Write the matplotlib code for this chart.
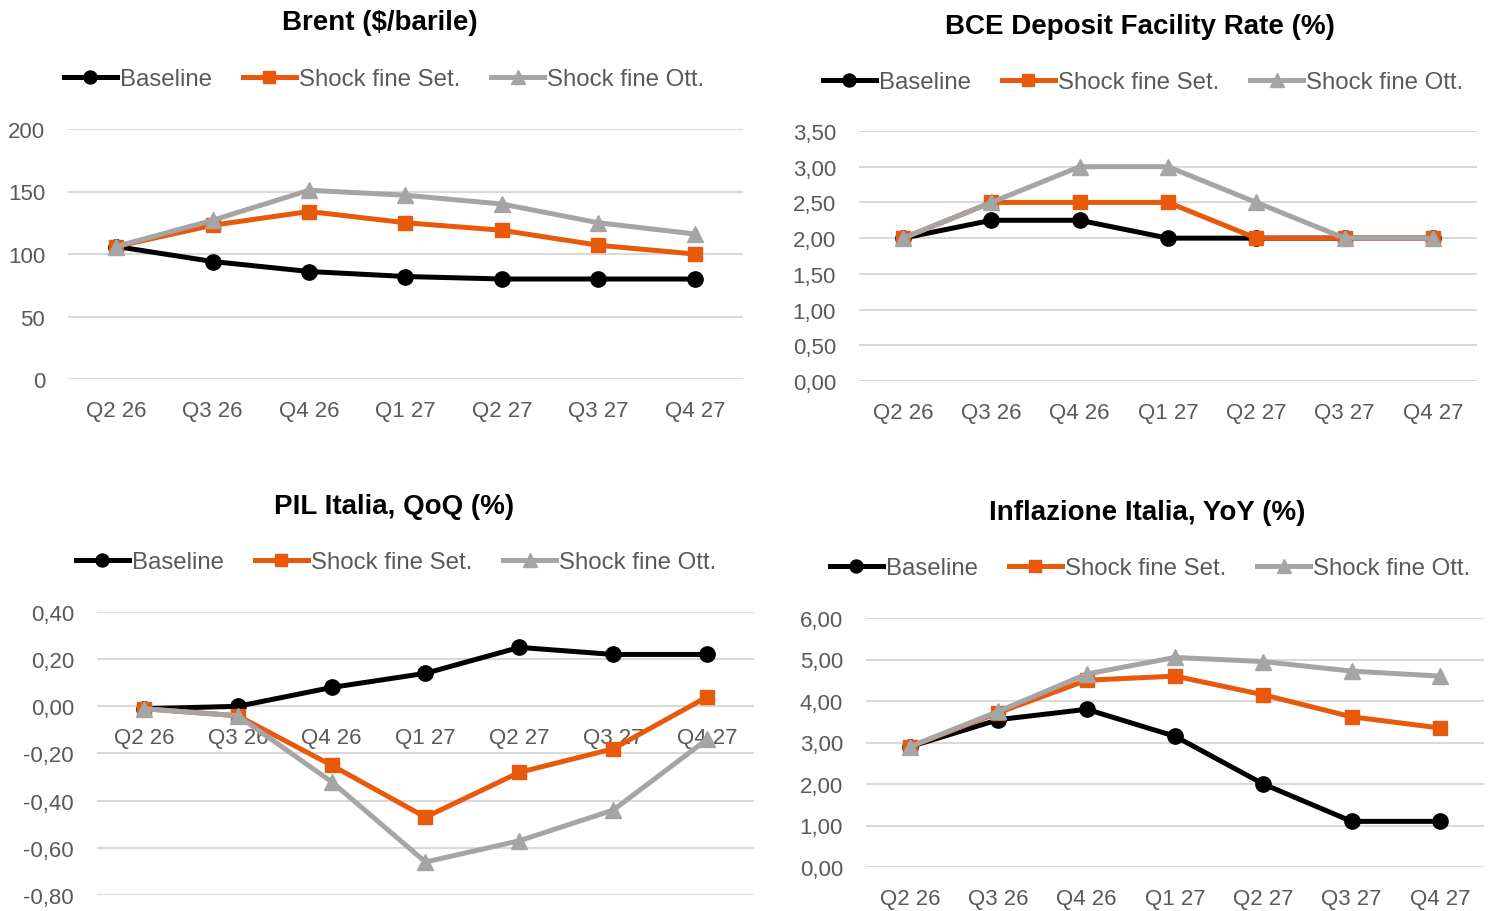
import matplotlib
matplotlib.use("Agg")
import matplotlib.pyplot as plt
from matplotlib.ticker import FuncFormatter, MultipleLocator

plt.rcParams['font.family'] = ['Liberation Sans', 'DejaVu Sans']

quarters = ["Q2 26", "Q3 26", "Q4 26", "Q1 27", "Q2 27", "Q3 27", "Q4 27"]
series_names = ["Baseline", "Shock fine Set.", "Shock fine Ott."]

# Brent ($/barile)
brent_base = [106, 94, 86, 82, 80, 80, 80]
brent_set = [106, 123, 134, 125, 119, 107, 100]
brent_ott = [106, 127, 151, 147, 140, 125, 116]

# BCE deposit facility rate (%)
bce_base = [2.00, 2.25, 2.25, 2.00, 2.00, 2.00, 2.00]
bce_set = [2.00, 2.50, 2.50, 2.50, 2.00, 2.00, 2.00]
bce_ott = [2.00, 2.50, 3.00, 3.00, 2.50, 2.00, 2.00]

# PIL Italia QoQ (%)
pil_base = [-0.01, 0.00, 0.08, 0.14, 0.25, 0.22, 0.22]
pil_set = [-0.01, -0.04, -0.25, -0.47, -0.28, -0.18, 0.04]
pil_ott = [-0.01, -0.04, -0.32, -0.66, -0.57, -0.44, -0.14]

# Inflazione Italia YoY (%)
inf_base = [2.90, 3.55, 3.80, 3.15, 2.00, 1.10, 1.10]
inf_set = [2.90, 3.72, 4.50, 4.60, 4.15, 3.62, 3.35]
inf_ott = [2.90, 3.75, 4.65, 5.05, 4.95, 4.72, 4.60]

W, H = 1494, 912
BLACK = "#000000"
ORANGE = "#E8590C"
GREY = "#A5A5A5"
TXT = "#595959"
GRID = "#D9D9D9"


def comma_fmt(v, pos):
    return f"{v:.2f}".replace(".", ",")


def int_fmt(v, pos):
    return f"{v:.0f}"


def make_panel(fig, box, title, title_xy, leg_xy, data, ylim, ystep, fmt, zero_axis=False):
    left, right, top, bottom = box
    ax = fig.add_axes([left / W, 1 - bottom / H, (right - left) / W, (bottom - top) / H])
    x = range(len(quarters))
    styles = [(BLACK, "o", 11), (ORANGE, "s", 10.5), (GREY, "^", 11.5)]
    for vals, name, (c, m, ms) in zip(data, series_names, styles):
        ax.plot(x, vals, color=c, lw=3.6, marker=m, ms=ms, label=name, zorder=3)

    ax.set_xlim(-0.5, len(quarters) - 0.5)
    ax.set_ylim(*ylim)
    ax.yaxis.set_major_locator(MultipleLocator(ystep))
    ax.yaxis.set_major_formatter(FuncFormatter(fmt))
    ax.set_xticks(list(x))
    ax.set_xticklabels(quarters)
    ax.grid(axis="y", color=GRID, lw=1.5)
    ax.set_axisbelow(True)
    for s in ax.spines.values():
        s.set_visible(False)
    if zero_axis:
        ax.spines["bottom"].set_position(("data", 0))
    ax.tick_params(axis="both", length=0, labelcolor=TXT, labelsize=16)
    ax.tick_params(axis="y", pad=16.5)
    ax.tick_params(axis="x", pad=15)

    fig.text(title_xy[0] / W, 1 - title_xy[1] / H, title, ha="center", va="center",
             fontsize=20, fontweight="bold", color="#000000")
    ax.legend(loc="center", bbox_to_anchor=(leg_xy[0] / W, 1 - leg_xy[1] / H),
              bbox_transform=fig.transFigure, ncol=3, frameon=False,
              fontsize=17.3, labelcolor=TXT, handlelength=2.2, handletextpad=0.12,
              columnspacing=1.3, markerscale=0.85)
    return ax


fig = plt.figure(figsize=(W / 100, H / 100), dpi=100)

make_panel(fig, (68, 743, 130, 380), "Brent ($/barile)", (380, 23), (384, 80),
           [brent_base, brent_set, brent_ott], (0, 200), 50, int_fmt)
make_panel(fig, (859, 1477, 132, 382), "BCE Deposit Facility Rate (%)", (1140, 27), (1143, 83),
           [bce_base, bce_set, bce_ott], (0, 3.5), 0.5, comma_fmt)
make_panel(fig, (97, 754, 613, 896), "PIL Italia, QoQ (%)", (394, 507), (396, 563),
           [pil_base, pil_set, pil_ott], (-0.8, 0.4), 0.2, comma_fmt, zero_axis=True)
make_panel(fig, (866, 1484, 619, 868), "Inflazione Italia, YoY (%)", (1147, 513), (1150, 569),
           [inf_base, inf_set, inf_ott], (0, 6), 1, comma_fmt)

fig.savefig("out.png", dpi=100, facecolor="white")
